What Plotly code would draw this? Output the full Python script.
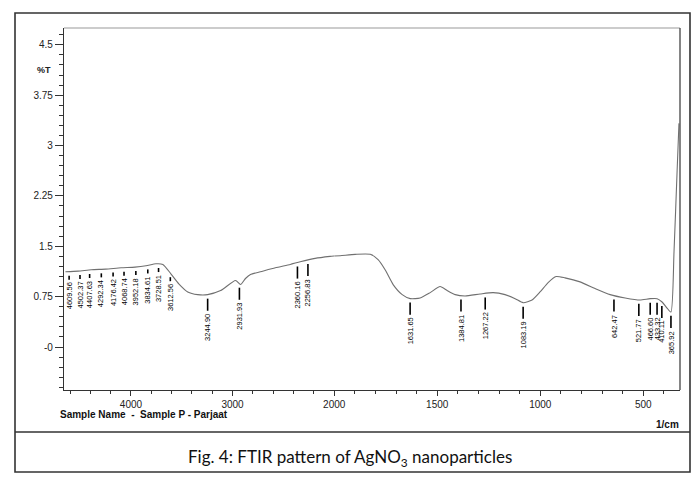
import numpy as np
import plotly.graph_objects as go

# ---- data ----
wavenumber = [4646, 4520, 4391, 4250, 4097, 3960, 3852, 3754, 3686, 3607, 3529, 3441, 3343, 3245,
              3117, 2970, 2921, 2872, 2823, 2725, 2578, 2431, 2333, 2186, 2039,
              1971, 1898, 1825, 1787, 1753, 1714, 1670, 1631, 1583, 1534, 1486, 1452, 1413,
              1365, 1292, 1229, 1171, 1122, 1083, 1040, 1001, 962, 923, 880, 807, 734, 661,
              588, 516, 467, 433, 409, 385, 366, 351, 336, 327]
transmittance = [1.12, 1.13, 1.15, 1.16, 1.18, 1.19, 1.21, 1.24, 1.23, 1.09, 0.94, 0.82, 0.78, 0.78,
                 0.84, 0.99, 0.93, 1.02, 1.08, 1.12, 1.18, 1.23, 1.27, 1.32, 1.35,
                 1.36, 1.38, 1.38, 1.30, 1.15, 0.93, 0.78, 0.72, 0.73, 0.81, 0.90, 0.84, 0.78,
                 0.76, 0.79, 0.81, 0.78, 0.72, 0.66, 0.70, 0.82, 0.96, 1.05, 1.03, 0.97, 0.87, 0.78,
                 0.73, 0.70, 0.72, 0.72, 0.67, 0.58, 0.52, 1.42, 2.62, 3.33]

peak_positions = [4609.56, 4502.37, 4407.63, 4292.34, 4176.42, 4068.74, 3952.18, 3834.61,
                  3728.51, 3612.56, 3244.90, 2931.93, 2360.16, 2256.83,
                  1631.65, 1384.81, 1267.22, 1083.19, 642.47, 521.77, 466.60, 433.32, 410.11, 365.92]

y_tickvals = [0, 0.75, 1.5, 2.25, 3, 3.75, 4.5]
y_ticktext = ["-0", "0.75", "1.5", "2.25", "3", "3.75", "4.5"]
x_left_ticks = [4000, 3000]
x_right_ticks = [2000, 1500, 1000, 500]

# ---- figure geometry ----
W, H = 695, 479
L, R, T, B = 64, 680, 28, 390
SPLIT = 2000.0
split_px = 334


def px(x):
    return (x - L) / (R - L)


def py(y):
    return (B - y) / (B - T)


wn = np.array(wavenumber, dtype=float)
tr = np.array(transmittance, dtype=float)
order = np.argsort(wn)
t_split = float(np.interp(SPLIT, wn[order], tr[order]))

left_mask = wn >= SPLIT
xl = list(wn[left_mask]) + [SPLIT]
yl = list(tr[left_mask]) + [t_split]
xr = [SPLIT] + list(wn[~left_mask])
yr = [t_split] + list(tr[~left_mask])

line_style = dict(color="#707070", width=1.1, shape="spline", smoothing=0.6)

fig = go.Figure()
fig.add_trace(go.Scatter(x=xl, y=yl, mode="lines", line=line_style, xaxis="x", yaxis="y",
                         showlegend=False, hoverinfo="skip"))
fig.add_trace(go.Scatter(x=xr, y=yr, mode="lines", line=line_style, xaxis="x2", yaxis="y",
                         showlegend=False, hoverinfo="skip"))

tickfont = dict(family="Liberation Sans, Arial, sans-serif", size=10, color="#222")
dom_split = px(split_px)

fig.update_layout(
    width=W, height=H,
    margin=dict(l=L, r=W - R, t=T, b=H - B, pad=0),
    paper_bgcolor="white", plot_bgcolor="white",
    xaxis=dict(domain=[0, dom_split], range=[4660, SPLIT], tickmode="array",
               tickvals=x_left_ticks, ticks="outside", ticklen=5, tickwidth=1,
               tickcolor="#333", showline=True, linecolor="#333", linewidth=1.2,
               showgrid=False, zeroline=False, tickfont=tickfont, anchor="y",
               minor=dict(tick0=0, dtick=200, ticks="outside", ticklen=3, tickcolor="#333",
                          showgrid=False)),
    xaxis2=dict(domain=[dom_split, 1], range=[SPLIT + 1, 322], tickmode="array",
                tickvals=x_right_ticks, ticks="outside", ticklen=5, tickwidth=1,
                tickcolor="#333", showline=True, linecolor="#333", linewidth=1.2,
                showgrid=False, zeroline=False, tickfont=tickfont, anchor="y",
                minor=dict(tick0=0, dtick=100, ticks="outside", ticklen=3, tickcolor="#333",
                           showgrid=False)),
    yaxis=dict(range=[-0.64, 4.75], tickmode="array", tickvals=y_tickvals,
               ticktext=y_ticktext, ticks="outside", ticklen=8, tickwidth=1,
               tickcolor="#333", showline=True, linecolor="#333", linewidth=1.2,
               showgrid=False, zeroline=False, tickfont=tickfont,
               minor=dict(tick0=0, dtick=0.15, ticks="outside", ticklen=4,
                          tickcolor="#333", showgrid=False)),
)

# peak markers: leader line + rotated label
shapes = []
annotations = []
for p in peak_positions:
    yv = float(np.interp(p, wn[order], tr[order]))
    axis = "x" if p >= SPLIT else "x2"
    lead = 0.12 if p > 3500 else 0.24
    shapes.append(dict(type="line", xref=axis, yref="y", x0=p, x1=p,
                       y0=yv - 0.06, y1=yv - lead, line=dict(color="black", width=1.6)))
    annotations.append(dict(x=p, y=yv - lead, xref=axis, yref="y", text=f"{p:.2f}",
                            textangle=-90, showarrow=False, xanchor="center", yanchor="top",
                            yshift=-1,
                            font=dict(family="Liberation Sans, Arial, sans-serif", size=7.5,
                                      color="black")))

# frame lines
shapes += [
    dict(type="line", xref="paper", yref="paper", x0=0, x1=1, y0=1, y1=1,
         line=dict(color="#999", width=1)),
    dict(type="line", xref="paper", yref="paper", x0=1, x1=1, y0=0, y1=1,
         line=dict(color="#444", width=1.3)),
    dict(type="rect", xref="paper", yref="paper", x0=px(15), x1=px(690), y0=py(472), y1=py(13),
         line=dict(color="#333", width=1.6)),
    dict(type="line", xref="paper", yref="paper", x0=px(15), x1=px(690), y0=py(432), y1=py(432),
         line=dict(color="#333", width=1.6)),
]

annotations += [
    dict(x=px(53), y=4.12, xref="paper", yref="y", text="<b>%T</b>", showarrow=False,
         xanchor="right", yanchor="middle",
         font=dict(family="Liberation Sans, Arial, sans-serif", size=9, color="#222")),
    dict(x=px(58), y=py(414), xref="paper", yref="paper",
         text="<b>Sample Name  -  Sample P - Parjaat</b>", showarrow=False,
         xanchor="left", yanchor="middle",
         font=dict(family="Liberation Sans, Arial, sans-serif", size=10, color="#111")),
    dict(x=px(681), y=py(424), xref="paper", yref="paper", text="<b>1/cm</b>",
         showarrow=False, xanchor="right", yanchor="middle",
         font=dict(family="Liberation Sans, Arial, sans-serif", size=10, color="#111")),
    dict(x=px(350), y=py(458), xref="paper", yref="paper",
         text="Fig. 4: FTIR pattern of AgNO<sub>3</sub> nanoparticles", showarrow=False,
         xanchor="center", yanchor="middle",
         font=dict(family="Lato, Open Sans, sans-serif", size=17, color="#111")),
]

fig.update_layout(shapes=shapes, annotations=annotations)
fig.write_html("out.html")
